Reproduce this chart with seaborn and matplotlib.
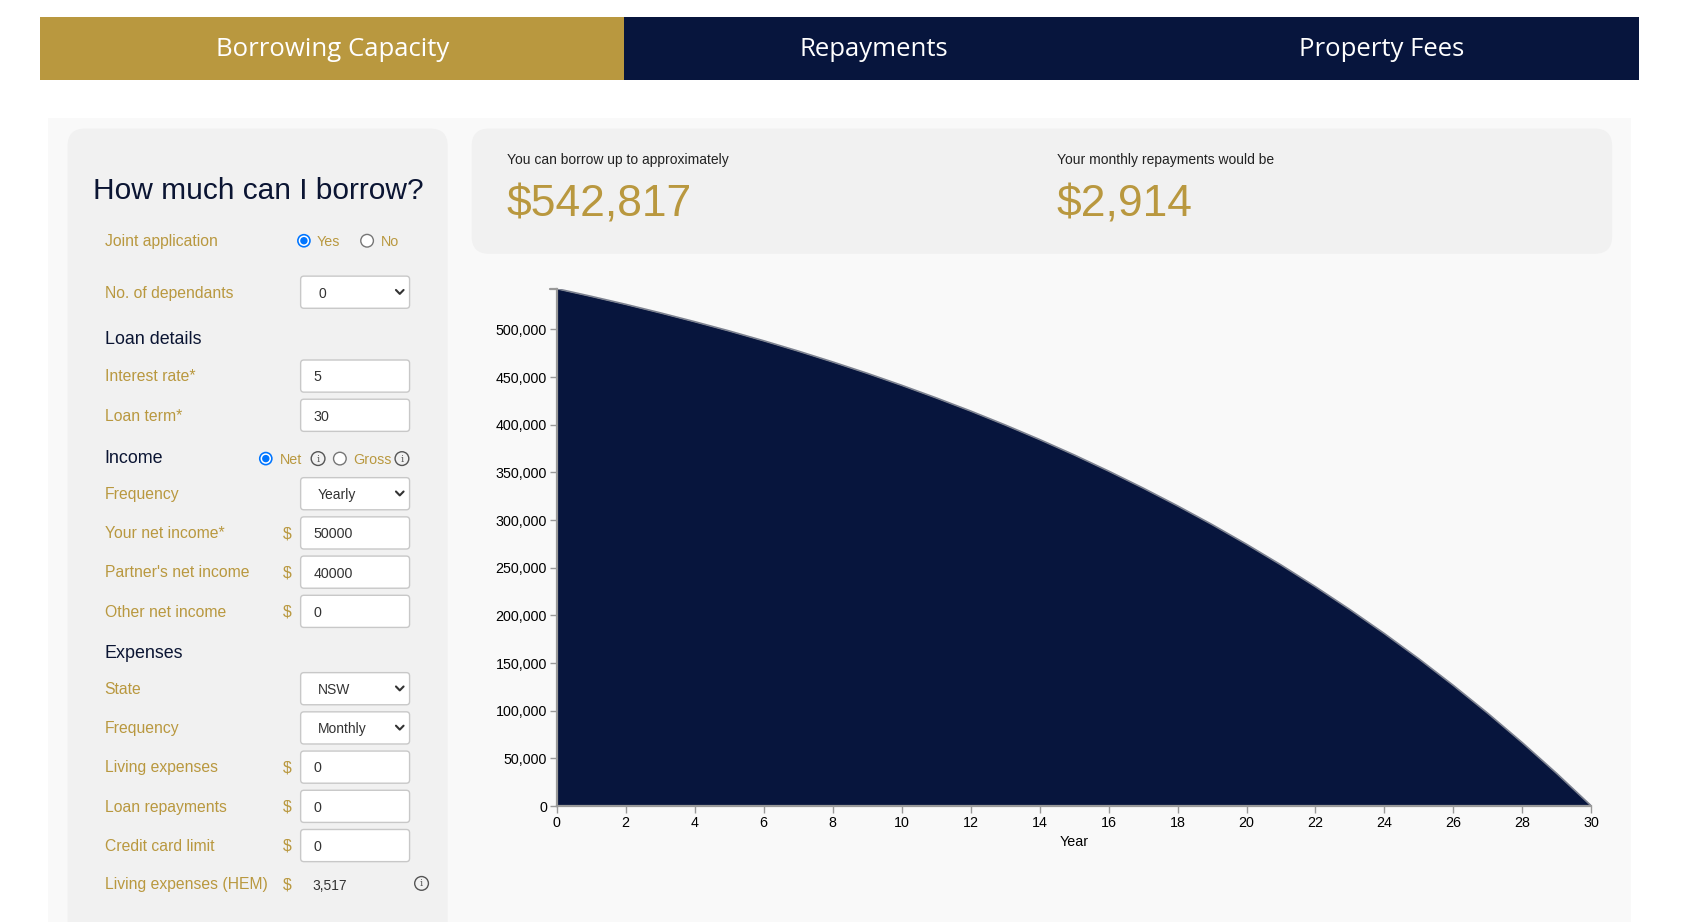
import matplotlib
matplotlib.use("Agg")
import matplotlib.pyplot as plt
from matplotlib.patches import FancyBboxPatch, Rectangle, Circle
from matplotlib.ticker import FuncFormatter
import pandas as pd
import seaborn as sns

# --- data ------------------------------------------------------------------
years = list(range(0, 31))
balance = [542817, 534800, 526400, 517500, 508200, 498500, 488200, 477400,
           466000, 454100, 441500, 428300, 414500, 399900, 384600, 368500,
           351500, 333700, 315000, 295400, 274700, 253000, 230100, 206100,
           180900, 154400, 126500, 97200, 66400, 34000, 0]
y_ticks = list(range(0, 500001, 50000))
x_ticks = list(range(0, 31, 2))

tab_labels = ["Borrowing Capacity", "Repayments", "Property Fees"]
summary_labels = ["You can borrow up to approximately", "Your monthly repayments would be"]
summary_values = ["$542,817", "$2,914"]

# form rows: (label, kind, value)  kind: select / input / money
form_rows = [
    ("No. of dependants", "select", "0"),
    ("Interest rate*", "input", "5"),
    ("Loan term*", "input", "30"),
    ("Frequency", "select", "Yearly"),
    ("Your net income*", "money", "50000"),
    ("Partner's net income", "money", "40000"),
    ("Other net income", "money", "0"),
    ("State", "select", "NSW"),
    ("Frequency", "select", "Monthly"),
    ("Living expenses", "money", "0"),
    ("Loan repayments", "money", "0"),
    ("Credit card limit", "money", "0"),
]
row_y = [268, 345, 381, 453, 489, 525, 561, 632, 668, 704, 740, 776]
section_labels = ["Loan details", "Income", "Expenses"]
section_y = [311, 420, 599]
hem_value = "3,517"

GOLD = "#b9983f"
NAVY = "#07153d"
DARK = "#0b1533"
GREY_TXT = "#333333"

sns.set_theme(style="white")
plt.rcParams["font.family"] = ["Liberation Sans", "DejaVu Sans"]

W, H = 1708, 922
S = W / 1568.0  # layout measured on a 1568 px wide copy


def p(v):
    return v * S


fig = plt.figure(figsize=(W / 100, H / 100), dpi=100)
fig.patch.set_facecolor("white")

bg = fig.add_axes([0, 0, 1, 1])
bg.set_xlim(0, W)
bg.set_ylim(H, 0)
bg.axis("off")


def rect(x0, y0, x1, y1, color, rounded=0, ec="none", lw=0, z=1):
    if rounded:
        patch = FancyBboxPatch((p(x0), p(y0)), p(x1 - x0), p(y1 - y0),
                               boxstyle=f"round,pad=0,rounding_size={p(rounded)}",
                               fc=color, ec=ec, lw=lw, zorder=z)
    else:
        patch = Rectangle((p(x0), p(y0)), p(x1 - x0), p(y1 - y0),
                          fc=color, ec=ec, lw=lw, zorder=z)
    bg.add_patch(patch)


def txt(x, y, s, size, color, ha="left", family=None, z=5):
    kw = {}
    if family:
        kw["family"] = family
    bg.text(p(x), p(y), s, fontsize=size, color=color, ha=ha, va="center",
            zorder=z, **kw)


def radio(x, y, on):
    if on:
        bg.add_patch(Circle((p(x), p(y)), p(6.3), fc="#0075ff", ec="none", zorder=4))
        bg.add_patch(Circle((p(x), p(y)), p(4.8), fc="white", ec="none", zorder=5))
        bg.add_patch(Circle((p(x), p(y)), p(3.4), fc="#0075ff", ec="none", zorder=6))
    else:
        bg.add_patch(Circle((p(x), p(y)), p(5.8), fc="white", ec="#767676", lw=1, zorder=4))


def info(x, y):
    bg.add_patch(Circle((p(x), p(y)), p(6.3), fc="none", ec="#555555", lw=1, zorder=4))
    txt(x, y + 0.5, "i", 7, "#555555", ha="center", family="DejaVu Serif")


def chevron(x, y):
    bg.plot([p(x - 3.5), p(x), p(x + 3.5)], [p(y - 1.8), p(y + 1.8), p(y - 1.8)],
            color="#333333", lw=1.5, zorder=6, solid_capstyle="round")


# tabs
rect(37, 16, 573, 73, GOLD)
rect(573, 16, 1505, 73, NAVY)
for label, cx in zip(tab_labels, [305, 802, 1268]):
    txt(cx, 45, label, 18.5, "white", ha="center", family="Open Sans")

# panels
rect(44, 108, 1497, 900, "#f9f9f9")
rect(62, 118, 411, 900, "#f1f1f1", rounded=16, z=2)
rect(433, 118, 1480, 233, "#f1f1f1", rounded=16, z=2)

# summary
for (lab, val), x in zip(zip(summary_labels, summary_values), [465, 970]):
    txt(x, 147, lab, 10, "#222222")
    txt(x, 188, val, 32, GOLD)

# form
txt(85, 175, "How much can I borrow?", 21.5, DARK)
txt(96, 222, "Joint application", 11.3, GOLD)
radio(279, 221, True)
txt(291, 222, "Yes", 10.3, GOLD)
radio(337, 221, False)
txt(350, 222, "No", 10.3, GOLD)

for lab, y in zip(section_labels, section_y):
    txt(96, y + 1, lab, 12.9, DARK)

radio(244, 421, True)
txt(257, 422, "Net", 10.3, GOLD)
info(292, 421)
radio(312, 421, False)
txt(324, 422, "Gross", 10.3, GOLD)
info(369, 421)

for (lab, kind, val), y in zip(form_rows, row_y):
    txt(96, y + 1, lab, 11.3, GOLD)
    rect(276, y - 14.5, 376, y + 15, "white", rounded=3, ec="#c8c8c8", lw=1, z=3)
    if kind == "select":
        txt(292, y + 1.5, val, 10, GREY_TXT)
        chevron(367, y)
    else:
        txt(288, y + 1.5, val, 10.3, GREY_TXT)
    if kind == "money":
        txt(264, y + 1, "$", 11.3, GOLD, ha="center")

txt(96, 812, "Living expenses (HEM)", 11.3, GOLD)
txt(264, 812, "$", 11.3, GOLD, ha="center")
txt(287, 813, hem_value, 10, GREY_TXT)
info(387, 811)

# --- chart -----------------------------------------------------------------
left, right, top, bottom = 511, 1461, 265, 740
ax = fig.add_axes([p(left) / W, 1 - p(bottom) / H,
                   p(right - left) / W, p(bottom - top) / H])
ax.patch.set_alpha(0)

df = pd.DataFrame({"Year": years, "Balance": balance})
ax.fill_between(df["Year"], df["Balance"], color=NAVY, lw=0, zorder=2)
sns.lineplot(data=df, x="Year", y="Balance", ax=ax, color="#7d8290", lw=1.2, zorder=3)

ax.set_xlim(0, 30)
ax.set_ylim(0, balance[0])
ax.set_xticks(x_ticks)
ax.set_yticks(y_ticks)
ax.yaxis.set_major_formatter(FuncFormatter(lambda v, _: f"{int(v):,}"))
for side in ["top", "right"]:
    ax.spines[side].set_visible(False)
for side in ["left", "bottom"]:
    ax.spines[side].set_color("#999999")
    ax.spines[side].set_linewidth(1.6)
    ax.spines[side].set_zorder(4)
ax.tick_params(axis="both", length=5, width=1, color="#999999", labelsize=10.3,
               labelcolor="black", pad=2, direction="out", bottom=True, left=True)
ax.set_xlabel("Year", fontsize=10.3, color="black", labelpad=4)
ax.set_ylabel("")
ax.grid(False)

# outer tick at the top of the y domain
bg.plot([p(left - 6), p(left)], [p(top), p(top)], color="#999999", lw=1.6, zorder=6)

fig.savefig("out.png", dpi=100)
